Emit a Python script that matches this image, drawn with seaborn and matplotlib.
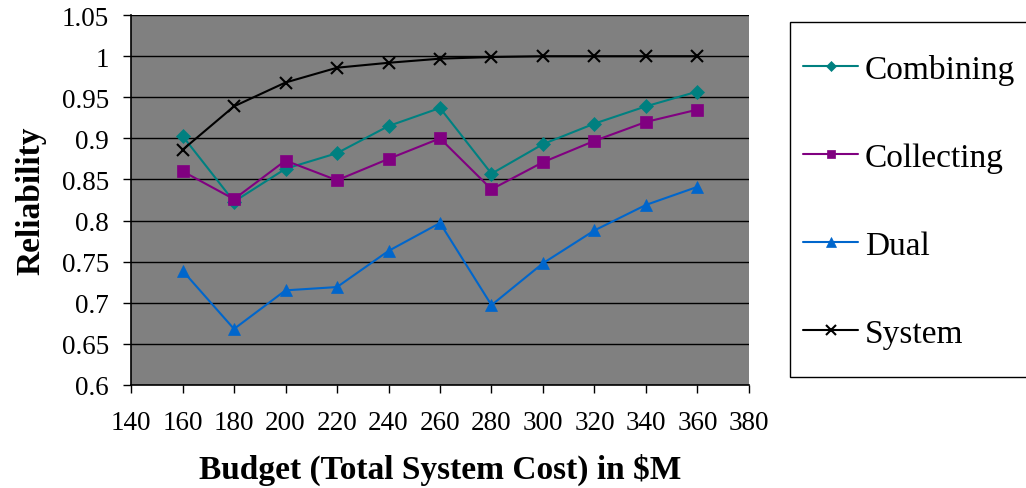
import numpy as np
import pandas as pd
import seaborn as sns
import matplotlib.pyplot as plt
from matplotlib.patches import Rectangle

budget = [160, 180, 200, 220, 240, 260, 280, 300, 320, 340, 360]
combining = [0.903, 0.823, 0.863, 0.882, 0.915, 0.937, 0.857, 0.893, 0.918, 0.939, 0.957]
collecting = [0.860, 0.826, 0.873, 0.849, 0.875, 0.900, 0.838, 0.871, 0.897, 0.920, 0.935]
dual = [0.739, 0.668, 0.715, 0.719, 0.763, 0.797, 0.697, 0.748, 0.788, 0.819, 0.841]
system = [0.886, 0.939, 0.968, 0.986, 0.992, 0.997, 0.999, 1.0, 1.0, 1.0, 1.0]

names = ["Combining", "Collecting", "Dual", "System"]
colors = ["#008080", "#800080", "#0066CC", "#000000"]
markers = ["D", "s", "^", "x"]
msizes = [7, 8, 9, 9]

sns.set_style("white")
plt.rcParams['font.family'] = ['Liberation Serif', 'DejaVu Serif']
plt.rcParams['text.color'] = 'black'

fig = plt.figure(figsize=(10.26, 4.89), dpi=100)
ax = fig.add_axes([0.1277, 0.211, 0.6023, 0.756])
ax.set_facecolor("#808080")

for name, vals, c, m, ms in zip(names, [combining, collecting, dual, system], colors, markers, msizes):
    df = pd.DataFrame({"budget": budget, "rel": vals})
    sns.lineplot(data=df, x="budget", y="rel", ax=ax, color=c, marker=m,
                 markersize=ms, markeredgecolor=c, markeredgewidth=1.5 if m == "x" else 0.5,
                 linewidth=1.5, label=name)

ax.set_xlim(140, 380)
ax.set_ylim(0.6, 1.05)
ax.set_xticks(np.arange(140, 381, 20))
ax.set_yticks(np.arange(0.6, 1.051, 0.05))
ax.set_yticklabels(["0.6", "0.65", "0.7", "0.75", "0.8", "0.85", "0.9", "0.95", "1", "1.05"])
ax.yaxis.grid(True, color="black", linewidth=1)
ax.xaxis.grid(False)
ax.set_axisbelow(True)
for s in ["top", "right"]:
    ax.spines[s].set_visible(False)
for s in ["left", "bottom"]:
    ax.spines[s].set_color("black")
    ax.spines[s].set_linewidth(1.2)
ax.tick_params(axis="both", direction="out", length=6, width=1, colors="black",
               labelcolor="black", labelsize=19.5, bottom=True, left=True)
ax.tick_params(axis="x", pad=12)
ax.tick_params(axis="y", pad=10)
ax.set_xlabel("Budget (Total System Cost) in $M", fontsize=24, fontweight="bold",
              labelpad=13, color="black")
ax.set_ylabel("Reliability", fontsize=24, fontweight="bold", labelpad=11, color="black")

# legend box (right edge runs off the figure like the original)
fig.patches.append(Rectangle((790 / 1026, 1 - 378 / 489), 0.3, 355 / 489,
                             transform=fig.transFigure, facecolor="white",
                             edgecolor="black", linewidth=1, zorder=0))

handles, labels = ax.get_legend_handles_labels()
ax.get_legend().remove()
leg = fig.legend(handles, labels, loc="upper left", bbox_to_anchor=(803 / 1026, 1 - 55 / 489),
                 fontsize=24, frameon=False, labelspacing=1.72, borderpad=0,
                 handlelength=1.65, handletextpad=0.2, markerscale=0.75, borderaxespad=0)

fig.savefig("out.png", dpi=100)
